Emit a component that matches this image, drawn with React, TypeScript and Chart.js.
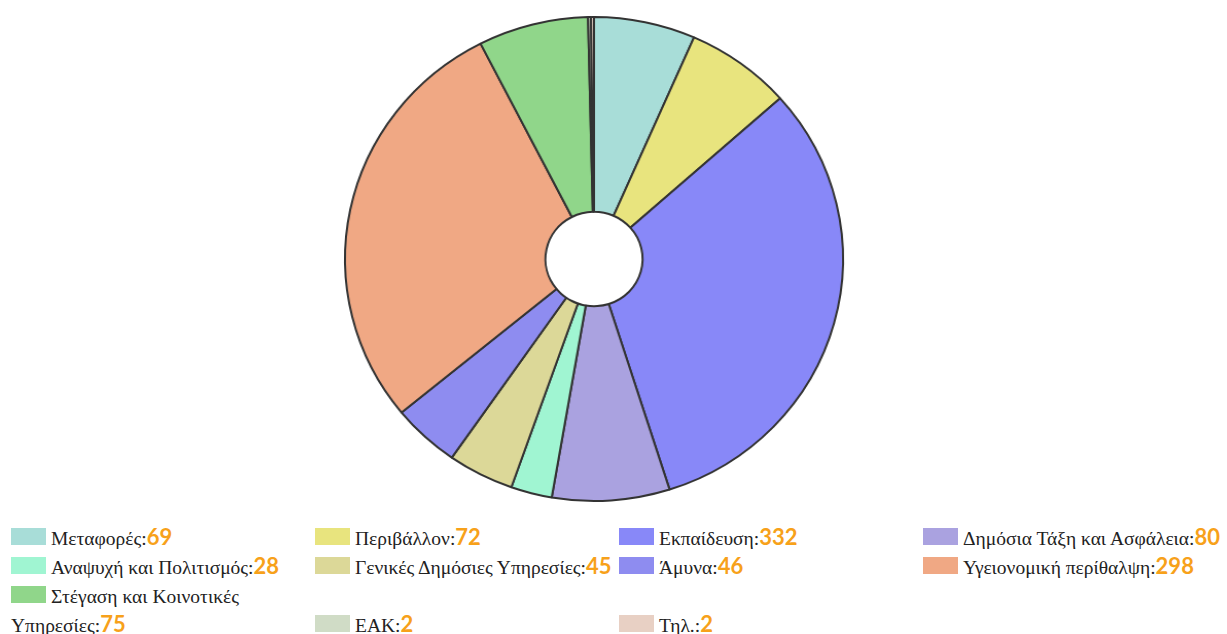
import React, { useEffect, useRef } from "react";
import { Chart, registerables } from "chart.js";

Chart.register(...registerables);

const labels = [
  "Μεταφορές",
  "Περιβάλλον",
  "Εκπαίδευση",
  "Δημόσια Τάξη και Ασφάλεια",
  "Αναψυχή και Πολιτισμός",
  "Γενικές Δημόσιες Υπηρεσίες",
  "Άμυνα",
  "Υγειονομική περίθαλψη",
  "Στέγαση και Κοινοτικές Υπηρεσίες",
  "ΕΑΚ",
  "Τηλ.",
];

const values = [69, 72, 332, 80, 28, 45, 46, 298, 75, 2, 2];

const colors = [
  "#a8ddd8",
  "#e8e47e",
  "#8888f8",
  "#aaa2e0",
  "#a0f5d2",
  "#dcd898",
  "#8e8cf0",
  "#f0a884",
  "#90d68a",
  "#d0dcc6",
  "#e8d0c4",
];

export default function App() {
  const canvasRef = useRef<HTMLCanvasElement | null>(null);

  useEffect(() => {
    if (!canvasRef.current) return;
    const chart = new Chart(canvasRef.current, {
      type: "doughnut",
      data: {
        labels,
        datasets: [
          {
            data: values,
            backgroundColor: colors,
            borderColor: "#333333",
            borderWidth: 2,
          },
        ],
      },
      options: {
        animation: false,
        responsive: true,
        maintainAspectRatio: false,
        cutout: "19.5%",
        layout: { padding: { top: 16, bottom: 16 } },
        plugins: {
          legend: { display: false },
          tooltip: { enabled: false },
        },
      },
    });
    return () => chart.destroy();
  }, []);

  return (
    <div>
      <div
        style={{
          position: "absolute",
          left: 0,
          top: 0,
          width: 1188,
          height: 518,
          transform: "scaleX(1.029)",
          transformOrigin: "594px 259px",
        }}
      >
        <canvas ref={canvasRef} />
      </div>
      <div
        style={{
          position: "absolute",
          left: 11,
          top: 524,
          width: 1216,
          fontFamily: "'Liberation Serif', 'Times New Roman', serif",
          fontSize: 19.5,
          lineHeight: "29px",
          color: "#222",
        }}
      >
        {labels.map((l, i) => (
          <div
            key={l}
            style={{
              display: "inline-block",
              width: "25%",
              boxSizing: "border-box",
            }}
          >
            <span
              style={{
                display: "inline-block",
                width: 35,
                height: 17,
                marginRight: 5,
                background: colors[i],
              }}
            />
            {l}:
            <span
              style={{
                color: "#f7a11a",
                fontFamily: "Lato, 'Open Sans', sans-serif",
                fontWeight: 700,
                fontSize: 22,
                lineHeight: "24px",
              }}
            >
              {values[i]}
            </span>
          </div>
        ))}
      </div>
    </div>
  );
}
